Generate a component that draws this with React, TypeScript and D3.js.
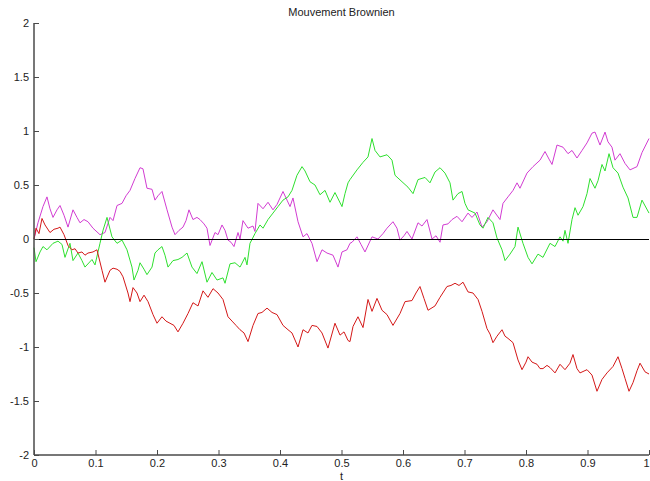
import React, { useEffect, useRef } from "react";
import * as d3 from "d3";

const title = "Mouvement Brownien";
const xLabel = "t";
const xTicks = [0, 0.1, 0.2, 0.3, 0.4, 0.5, 0.6, 0.7, 0.8, 0.9, 1];
const yTicks = [-2, -1.5, -1, -0.5, 0, 0.5, 1, 1.5, 2];

const magentaPath: [number, number][] = [
  [0, 0], [0.0065, 0.15], [0.0146, 0.3], [0.0211, 0.39], [0.026, 0.28], [0.0309, 0.2], [0.0374, 0.27],
  [0.0423, 0.31], [0.0488, 0.22], [0.0553, 0.11], [0.0634, 0.27], [0.0699, 0.2], [0.0748, 0.15],
  [0.0813, 0.18], [0.0878, 0.16], [0.0959, 0.1], [0.1073, 0.04], [0.1154, 0.06], [0.1236, 0.2],
  [0.1285, 0.17], [0.135, 0.31], [0.1431, 0.33], [0.1496, 0.4], [0.1561, 0.45], [0.1642, 0.56],
  [0.1724, 0.66], [0.1772, 0.65], [0.1837, 0.47], [0.1919, 0.46], [0.1967, 0.36], [0.2016, 0.4],
  [0.2081, 0.44], [0.2163, 0.27], [0.2244, 0.11], [0.2293, 0.04], [0.2358, 0.08], [0.2423, 0.11],
  [0.2472, 0.17], [0.252, 0.27], [0.2585, 0.18], [0.265, 0.2], [0.2699, 0.18], [0.2764, 0.14],
  [0.2813, 0.1], [0.2862, -0.06], [0.2943, 0.06], [0.2992, 0.04], [0.3057, 0.13], [0.3106, 0.08],
  [0.3154, -0.01], [0.3203, -0.03], [0.3252, -0.07], [0.3317, 0.06], [0.335, 0.0], [0.3398, 0.17],
  [0.348, 0.1], [0.3561, 0.12], [0.3593, 0.07], [0.3642, 0.33], [0.3724, 0.28], [0.3805, 0.34],
  [0.3886, 0.27], [0.3951, 0.32], [0.4049, 0.44], [0.4114, 0.36], [0.4163, 0.3], [0.4211, 0.38],
  [0.4293, 0.16], [0.4374, 0.02], [0.4439, 0.05], [0.452, -0.04], [0.4602, -0.21], [0.4683, -0.1],
  [0.4764, -0.13], [0.4862, -0.15], [0.4943, -0.26], [0.5008, -0.12], [0.5089, -0.1], [0.5138, -0.04],
  [0.5171, -0.03], [0.5252, 0.02], [0.5317, -0.05], [0.5382, -0.12], [0.5496, 0.02], [0.5593, 0.0],
  [0.5675, 0.05], [0.574, 0.1], [0.5837, 0.16], [0.5902, 0.1], [0.5951, -0.01], [0.6016, 0.03],
  [0.6065, 0.07], [0.6146, 0.0], [0.6244, 0.15], [0.6309, 0.12], [0.639, 0.18], [0.6472, 0.0],
  [0.6537, 0.03], [0.6602, -0.03], [0.665, 0.13], [0.6732, 0.14], [0.6797, 0.18], [0.6878, 0.21],
  [0.696, 0.16], [0.7057, 0.24], [0.7122, 0.2], [0.7203, 0.25], [0.7285, 0.11], [0.7366, 0.16],
  [0.7463, 0.27], [0.7577, 0.18], [0.7626, 0.33], [0.7707, 0.39], [0.7789, 0.45], [0.7854, 0.52],
  [0.7902, 0.47], [0.8016, 0.61], [0.8114, 0.67], [0.8228, 0.73], [0.8309, 0.81], [0.8374, 0.74],
  [0.8423, 0.69], [0.8504, 0.87], [0.8602, 0.85], [0.8683, 0.79], [0.8748, 0.82], [0.8829, 0.75],
  [0.8911, 0.82], [0.8992, 0.89], [0.9073, 0.98], [0.9122, 0.99], [0.9203, 0.87], [0.9285, 0.99],
  [0.9333, 0.9], [0.9398, 0.85], [0.9447, 0.73], [0.9528, 0.79], [0.961, 0.7], [0.9691, 0.64],
  [0.9805, 0.67], [0.9886, 0.8], [1.0, 0.93],
];

const greenPath: [number, number][] = [
  [0, -0.08], [0.0033, -0.21], [0.0098, -0.12], [0.0146, -0.07], [0.0211, -0.1], [0.0309, -0.04],
  [0.039, -0.02], [0.0455, -0.05], [0.0504, -0.17], [0.0585, -0.04], [0.0634, -0.2], [0.0715, -0.13],
  [0.078, -0.2], [0.0829, -0.26], [0.0943, -0.19], [0.0992, -0.24], [0.1073, -0.04], [0.1122, 0.08],
  [0.1187, 0.2], [0.1268, 0.02], [0.135, -0.04], [0.1431, -0.01], [0.1512, -0.1], [0.1593, -0.26],
  [0.1626, -0.38], [0.1691, -0.29], [0.1724, -0.22], [0.1789, -0.28], [0.1837, -0.33], [0.1919, -0.26],
  [0.1967, -0.13], [0.2016, -0.1], [0.2081, -0.07], [0.213, -0.15], [0.2179, -0.26], [0.226, -0.2],
  [0.2341, -0.19], [0.2407, -0.17], [0.2488, -0.13], [0.2569, -0.26], [0.265, -0.32], [0.2732, -0.21],
  [0.2813, -0.4], [0.2894, -0.31], [0.2976, -0.38], [0.3073, -0.36], [0.3106, -0.41], [0.3187, -0.23],
  [0.3268, -0.22], [0.335, -0.26], [0.3431, -0.17], [0.3463, -0.24], [0.3512, -0.04], [0.3593, 0.05],
  [0.3675, 0.13], [0.3724, 0.1], [0.3805, 0.18], [0.3886, 0.24], [0.3967, 0.3], [0.4049, 0.36],
  [0.413, 0.39], [0.4195, 0.45], [0.4276, 0.59], [0.4358, 0.67], [0.4407, 0.63], [0.4488, 0.53],
  [0.4569, 0.5], [0.465, 0.41], [0.4732, 0.45], [0.4813, 0.34], [0.4894, 0.43], [0.5008, 0.3],
  [0.5057, 0.42], [0.5106, 0.52], [0.5138, 0.55], [0.5252, 0.64], [0.535, 0.71], [0.5431, 0.76],
  [0.5496, 0.93], [0.5545, 0.82], [0.5626, 0.76], [0.574, 0.78], [0.5821, 0.73], [0.587, 0.59],
  [0.5984, 0.53], [0.6081, 0.48], [0.6163, 0.42], [0.6244, 0.55], [0.6358, 0.57], [0.6439, 0.52],
  [0.652, 0.62], [0.6602, 0.66], [0.6683, 0.61], [0.6764, 0.52], [0.6813, 0.36], [0.6894, 0.42],
  [0.696, 0.44], [0.7008, 0.33], [0.7057, 0.27], [0.7171, 0.24], [0.7252, 0.13], [0.7301, 0.1],
  [0.7382, 0.2], [0.7463, 0.15], [0.7528, 0.01], [0.761, -0.1], [0.7659, -0.2], [0.774, -0.14],
  [0.7821, -0.07], [0.787, 0.11], [0.7951, -0.04], [0.8033, -0.17], [0.8098, -0.23], [0.8195, -0.14],
  [0.8276, -0.17], [0.839, -0.04], [0.8472, -0.07], [0.8553, 0.02], [0.8602, -0.02], [0.8634, 0.08],
  [0.8683, -0.04], [0.8748, 0.18], [0.8797, 0.29], [0.8846, 0.22], [0.8927, 0.3], [0.8992, 0.42],
  [0.9041, 0.56], [0.9122, 0.47], [0.9171, 0.54], [0.9236, 0.69], [0.9285, 0.63], [0.935, 0.79],
  [0.9415, 0.66], [0.9496, 0.61], [0.9577, 0.48], [0.9659, 0.38], [0.974, 0.2], [0.9805, 0.2],
  [0.9886, 0.36], [1.0, 0.24],
];

const redPath: [number, number][] = [
  [0, 0], [0.0033, 0.1], [0.0081, 0.05], [0.013, 0.19], [0.0179, 0.13], [0.026, 0.06], [0.0325, 0.09],
  [0.039, 0.1], [0.0423, 0.11], [0.0488, 0.04], [0.0553, -0.06], [0.0618, -0.1], [0.0667, -0.09],
  [0.0715, -0.13], [0.078, -0.12], [0.0829, -0.15], [0.0878, -0.13], [0.0959, -0.12], [0.1024, -0.1],
  [0.1106, -0.29], [0.1154, -0.4], [0.1236, -0.29], [0.1285, -0.27], [0.135, -0.28], [0.1398, -0.3],
  [0.1447, -0.35], [0.1528, -0.5], [0.1561, -0.58], [0.161, -0.45], [0.1675, -0.5], [0.1724, -0.58],
  [0.1789, -0.52], [0.1854, -0.58], [0.1935, -0.7], [0.2, -0.78], [0.2081, -0.72], [0.2146, -0.76],
  [0.2211, -0.78], [0.2276, -0.8], [0.2341, -0.86], [0.2423, -0.78], [0.2504, -0.69], [0.2585, -0.59],
  [0.2667, -0.62], [0.2748, -0.48], [0.2829, -0.54], [0.2911, -0.46], [0.2992, -0.5], [0.3073, -0.56],
  [0.3154, -0.72], [0.322, -0.76], [0.3285, -0.8], [0.335, -0.84], [0.3415, -0.87], [0.348, -0.95],
  [0.3561, -0.8], [0.3642, -0.69], [0.3707, -0.68], [0.3789, -0.64], [0.387, -0.68], [0.3951, -0.7],
  [0.4049, -0.8], [0.413, -0.84], [0.4195, -0.87], [0.4293, -1.0], [0.4374, -0.84], [0.4455, -0.87],
  [0.452, -0.8], [0.4602, -0.81], [0.4683, -0.87], [0.478, -1.01], [0.4894, -0.78], [0.4976, -0.89],
  [0.5041, -0.86], [0.5106, -0.94], [0.5138, -0.95], [0.5187, -0.81], [0.5268, -0.72], [0.535, -0.82],
  [0.5431, -0.56], [0.5496, -0.67], [0.5577, -0.55], [0.5659, -0.66], [0.574, -0.7], [0.5837, -0.8],
  [0.5951, -0.69], [0.6033, -0.58], [0.6146, -0.57], [0.6211, -0.5], [0.6276, -0.44], [0.6341, -0.55],
  [0.6407, -0.66], [0.652, -0.62], [0.6602, -0.54], [0.6715, -0.44], [0.678, -0.43], [0.6846, -0.41],
  [0.6911, -0.43], [0.6976, -0.4], [0.7057, -0.49], [0.7138, -0.5], [0.722, -0.56], [0.7285, -0.67],
  [0.7366, -0.83], [0.7415, -0.88], [0.7463, -0.96], [0.7528, -0.9], [0.761, -0.84], [0.7659, -0.9],
  [0.7707, -0.92], [0.7789, -0.96], [0.787, -1.12], [0.7935, -1.21], [0.8, -1.14], [0.8033, -1.09],
  [0.8098, -1.14], [0.8179, -1.16], [0.8228, -1.2], [0.8276, -1.2], [0.8341, -1.17], [0.839, -1.19],
  [0.8472, -1.24], [0.8553, -1.16], [0.8634, -1.21], [0.8715, -1.15], [0.8764, -1.07], [0.8829, -1.2],
  [0.8878, -1.24], [0.8992, -1.21], [0.9073, -1.26], [0.9154, -1.41], [0.9236, -1.3], [0.9317, -1.24],
  [0.9415, -1.18], [0.9496, -1.09], [0.9561, -1.2], [0.961, -1.29], [0.9675, -1.41], [0.974, -1.33],
  [0.9805, -1.22], [0.9854, -1.15], [0.9935, -1.23], [1.0, -1.25],
];

const zeroLine: [number, number][] = [[0, 0], [1, 0]];

const seriesColors = { magenta: "#d23cd2", green: "#2ee02e", red: "#d41818" };

export default function App() {
  const ref = useRef<SVGSVGElement | null>(null);

  useEffect(() => {
    const svg = d3.select(ref.current);
    svg.selectAll("*").remove();
    const W = 650, H = 481;
    const left = 34, right = 649, top = 23, bottom = 455;
    const x = d3.scaleLinear().domain([0, 1]).range([left, right]);
    const y = d3.scaleLinear().domain([-2, 2]).range([bottom, top]);
    const font = "'Liberation Sans', Arial, Helvetica, sans-serif";

    svg.append("rect").attr("width", W).attr("height", H).attr("fill", "#fff");

    const line = d3.line<[number, number]>().x((d) => x(d[0])).y((d) => y(d[1]));

    const draw = (data: [number, number][], color: string) =>
      svg.append("path").attr("d", line(data)).attr("fill", "none")
        .attr("stroke", color).attr("stroke-width", 1).attr("stroke-linejoin", "round");

    draw(magentaPath, seriesColors.magenta);
    draw(greenPath, seriesColors.green);
    draw(redPath, seriesColors.red);
    draw(zeroLine, "#000").attr("transform", "translate(0,0.5)");

    const axisColor = "#4a4a4a";
    const yAxis = d3.axisLeft(y).tickValues(yTicks).tickSize(-5).tickPadding(5)
      .tickFormat((d) => String(d));
    const gy = svg.append("g").attr("transform", `translate(${left},0)`).call(yAxis);
    gy.select(".domain").remove();
    gy.append("line").attr("x1", 0).attr("x2", 0).attr("y1", top).attr("y2", bottom)
      .attr("stroke", axisColor).attr("stroke-width", 1.5);
    gy.selectAll(".tick line").attr("stroke", axisColor);
    gy.selectAll(".tick text").attr("fill", "#222").style("font-family", font).style("font-size", "11px");

    const xAxis = d3.axisBottom(x).tickValues(xTicks).tickSize(-5).tickPadding(4)
      .tickFormat((d) => String(d));
    const gx = svg.append("g").attr("transform", `translate(0,${bottom})`).call(xAxis);
    gx.select(".domain").remove();
    gx.append("line").attr("x1", left).attr("x2", right).attr("y1", 0).attr("y2", 0)
      .attr("stroke", axisColor).attr("stroke-width", 1.5);
    gx.selectAll(".tick line").attr("stroke", axisColor);
    gx.selectAll(".tick text").attr("fill", "#222").style("font-family", font).style("font-size", "11px");
    gx.selectAll<SVGGElement, number>(".tick").filter((d) => d === 1)
      .select("text").attr("text-anchor", "end").attr("dx", "0");

    svg.append("text").attr("x", (left + right) / 2).attr("y", 16).attr("text-anchor", "middle")
      .style("font-family", font).style("font-size", "11px").attr("fill", "#222").text(title);
    svg.append("text").attr("x", (left + right) / 2).attr("y", 480).attr("text-anchor", "middle")
      .style("font-family", font).style("font-size", "11px").attr("fill", "#222").text(xLabel);
  }, []);

  return (
    <svg ref={ref} width={650} height={481}
      style={{ position: "absolute", left: 0, top: 0, display: "block" }} />
  );
}
